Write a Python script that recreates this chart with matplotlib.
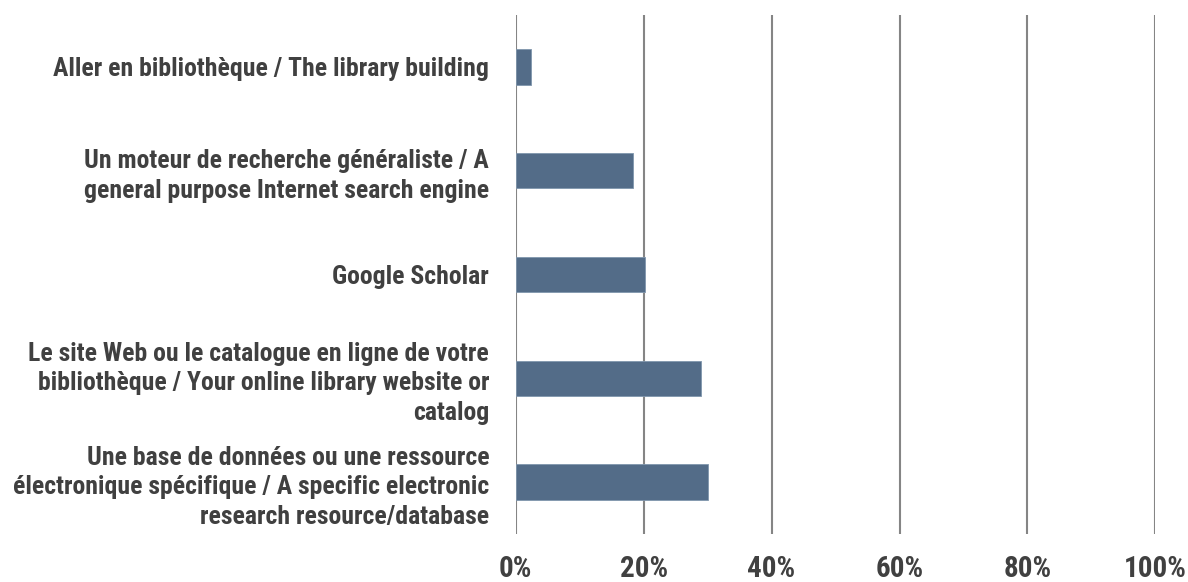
import numpy as np
import matplotlib
matplotlib.use("Agg")
import matplotlib.pyplot as plt
from matplotlib.ticker import FuncFormatter

# categories, top to bottom
labels = [
    "Aller en bibliothèque / The library building",
    "Un moteur de recherche généraliste / A\ngeneral purpose Internet search engine",
    "Google Scholar",
    "Le site Web ou le catalogue en ligne de votre\nbibliothèque / Your online library website or\ncatalog",
    "Une base de données ou une ressource\nélectronique spécifique / A specific electronic\nresearch resource/database",
]
values = [2.4, 18.3, 20.2, 28.9, 30.0]
xticks = [0, 20, 40, 60, 80, 100]

plt.rcParams['font.family'] = ['Roboto Condensed', 'Liberation Sans', 'DejaVu Sans']
text_color = '#404040'
bar_color = '#536c88'

fig = plt.figure(figsize=(11.88, 5.82), dpi=100)
ax = fig.add_axes([0.434, 0.0825, 0.5386, 0.8917])

pos = np.arange(len(labels))
ax.barh(pos, values, height=0.34, color=bar_color, edgecolor='#8096ad', linewidth=0.6, zorder=3)

ax.set_xlim(0, 100)
ax.set_ylim(len(labels) - 0.5, -0.5)
ax.set_xticks(xticks)
ax.xaxis.set_major_formatter(FuncFormatter(lambda v, p: f"{v:.0f}%"))
ax.set_yticks(pos)
ax.set_yticklabels(labels, fontweight='bold', fontsize=18.5, color=text_color,
                   linespacing=1.28)
for t in ax.get_xticklabels():
    t.set_fontweight('bold')
    t.set_fontsize(21)
    t.set_color(text_color)

ax.tick_params(axis='y', length=0, pad=19)
ax.tick_params(axis='x', length=0, pad=15)
ax.grid(axis='x', color='#858585', linewidth=1.5, zorder=0)
for s in ax.spines.values():
    s.set_visible(False)

fig.savefig("out.png", dpi=100)
